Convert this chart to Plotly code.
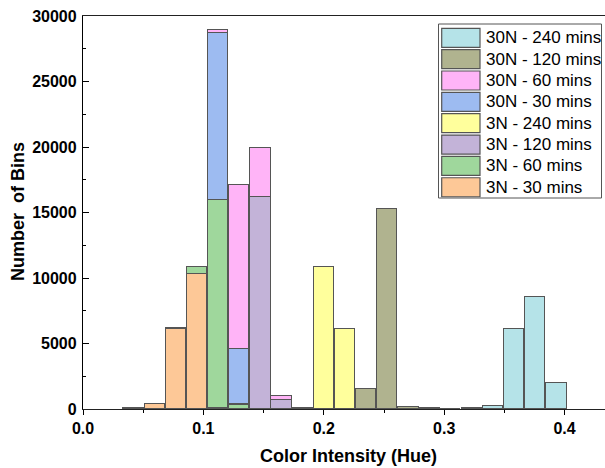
import plotly.graph_objects as go

# ---------------- data ----------------
bin_centers = [0.0420, 0.0596, 0.0771, 0.0947, 0.1122, 0.1298, 0.1474, 0.1649,
               0.1825, 0.2000, 0.2176, 0.2352, 0.2527, 0.2703, 0.2878, 0.3054,
               0.3230, 0.3405, 0.3581, 0.3756, 0.3932]
bin_width = 0.01756

series_names = ["3N - 30 mins", "3N - 60 mins", "3N - 120 mins", "3N - 240 mins",
                "30N - 30 mins", "30N - 60 mins", "30N - 120 mins", "30N - 240 mins"]
series_colors = ["#FDC897", "#9FD79C", "#C3B3D8", "#FFFF9C",
                 "#9DBBF1", "#FFB4F7", "#B0B38F", "#B5E3E8"]

n3_30 = [90, 350, 6100, 10280, 40, 0, 0, 0, 0, 0, 0, 0, 0, 0, 0, 0, 0, 0, 0, 0, 0]
n3_60 = [0, 0, 120, 530, 15950, 330, 0, 0, 0, 0, 0, 0, 0, 0, 0, 0, 0, 0, 0, 0, 0]
n3_120 = [0, 0, 0, 0, 0, 40, 16200, 690, 80, 0, 0, 0, 0, 0, 0, 0, 0, 0, 0, 0, 0]
n3_240 = [0, 0, 0, 0, 0, 0, 0, 0, 0, 10870, 6120, 0, 0, 0, 0, 0, 0, 0, 0, 0, 0]
n30_30 = [0, 0, 0, 0, 12740, 4180, 0, 0, 0, 0, 0, 0, 0, 0, 0, 0, 0, 0, 0, 0, 0]
n30_60 = [0, 0, 0, 0, 230, 12560, 3760, 330, 0, 0, 0, 0, 0, 0, 0, 0, 0, 0, 0, 0, 0]
n30_120 = [0, 0, 0, 0, 0, 0, 0, 0, 0, 0, 0, 1560, 15280, 140, 40, 0, 0, 0, 0, 0, 0]
n30_240 = [0, 0, 0, 0, 0, 0, 0, 0, 0, 0, 0, 0, 0, 0, 0, 30, 40, 230, 6080, 8540, 1950]

series_values = [n3_30, n3_60, n3_120, n3_240, n30_30, n30_60, n30_120, n30_240]

x_ticks = [0.0, 0.1, 0.2, 0.3, 0.4]
y_ticks = [0, 5000, 10000, 15000, 20000, 25000, 30000]

# ---------------- layout constants (page pixels) ----------------
W, H = 605, 468
L, R, T, B = 83, 605, 16, 409   # plot area in pixels
FONT = "Liberation Sans, Arial, sans-serif"
X_MAX = (R - L) / 1204.0


def px(xp):
    return (xp - L) / (R - L)


def py(yp):
    return (B - yp) / (B - T)


fig = go.Figure()
for name, color, vals in zip(series_names, series_colors, series_values):
    fig.add_trace(go.Bar(
        x=bin_centers,
        y=[v if v else None for v in vals],
        width=bin_width * 0.955,
        name=name,
        marker=dict(color=color, line=dict(color="#555555", width=1.4)),
        showlegend=False,
    ))

shapes = []
annotations = []

# manual legend (top entry = last stacked series)
box_l, box_r, box_t, box_b = 438.5, 601.5, 24, 198
shapes.append(dict(type="rect", xref="paper", yref="paper",
                   x0=px(box_l), x1=px(box_r), y0=py(box_b), y1=py(box_t),
                   line=dict(color="#555555", width=1), fillcolor="white", layer="above"))
for i, (name, color) in enumerate(zip(series_names[::-1], series_colors[::-1])):
    top = 28.3 + 21.35 * i
    bot = top + 19
    shapes.append(dict(type="rect", xref="paper", yref="paper",
                       x0=px(441.7), x1=px(480), y0=py(bot), y1=py(top),
                       line=dict(color="#555555", width=1.2), fillcolor=color, layer="above"))
    annotations.append(dict(xref="paper", yref="paper", x=px(483.5), y=py((top + bot) / 2),
                            xanchor="left", yanchor="middle", showarrow=False, text=name,
                            font=dict(family=FONT, size=17, color="black")))

# axis titles
annotations.append(dict(xref="paper", yref="paper", x=px(348), y=py(456),
                        xanchor="center", yanchor="middle", showarrow=False,
                        text="Color Intensity (Hue)",
                        font=dict(family=FONT, size=18, color="black", weight="bold")))
annotations.append(dict(xref="paper", yref="paper", x=px(18), y=py(212),
                        xanchor="center", yanchor="middle", showarrow=False, textangle=-90,
                        text="Number \u00a0of Bins",
                        font=dict(family=FONT, size=18, color="black", weight="bold")))

fig.update_layout(
    width=W, height=H,
    margin=dict(l=L, r=W - R, t=T, b=H - B, autoexpand=False),
    barmode="stack",
    bargap=0,
    plot_bgcolor="white", paper_bgcolor="white",
    font=dict(family=FONT, color="black"),
    shapes=shapes,
    annotations=annotations,
    xaxis=dict(
        range=[0, X_MAX],
        tickvals=x_ticks, ticktext=[f"{v:.1f}" for v in x_ticks],
        ticks="outside", ticklen=5, tickwidth=1.3, tickcolor="black",
        minor=dict(ticks="outside", dtick=0.05, tick0=0, ticklen=3, tickwidth=1.2, tickcolor="black"),
        showline=True, linecolor="#222222", linewidth=1.3, mirror=True,
        showgrid=False, zeroline=False,
        ticklabeloverflow="allow",
        tickfont=dict(family=FONT, size=16, color="black", weight="bold"),
    ),
    yaxis=dict(
        range=[0, 30000],
        tickvals=y_ticks, ticktext=[str(v) for v in y_ticks],
        ticks="inside", ticklen=6, tickwidth=1.3, tickcolor="black",
        minor=dict(ticks="inside", dtick=2500, tick0=0, ticklen=3, tickwidth=1.2, tickcolor="black"),
        showline=True, linecolor="black", linewidth=1.3,
        showgrid=False, zeroline=False,
        ticklabelstandoff=2,
        ticklabeloverflow="allow",
        tickfont=dict(family=FONT, size=16, color="black", weight="bold"),
    ),
)

fig.write_html(
    "out.html",
    config={"displayModeBar": False},
    post_script="document.body.style.margin='0';document.body.style.overflow='hidden';",
)
